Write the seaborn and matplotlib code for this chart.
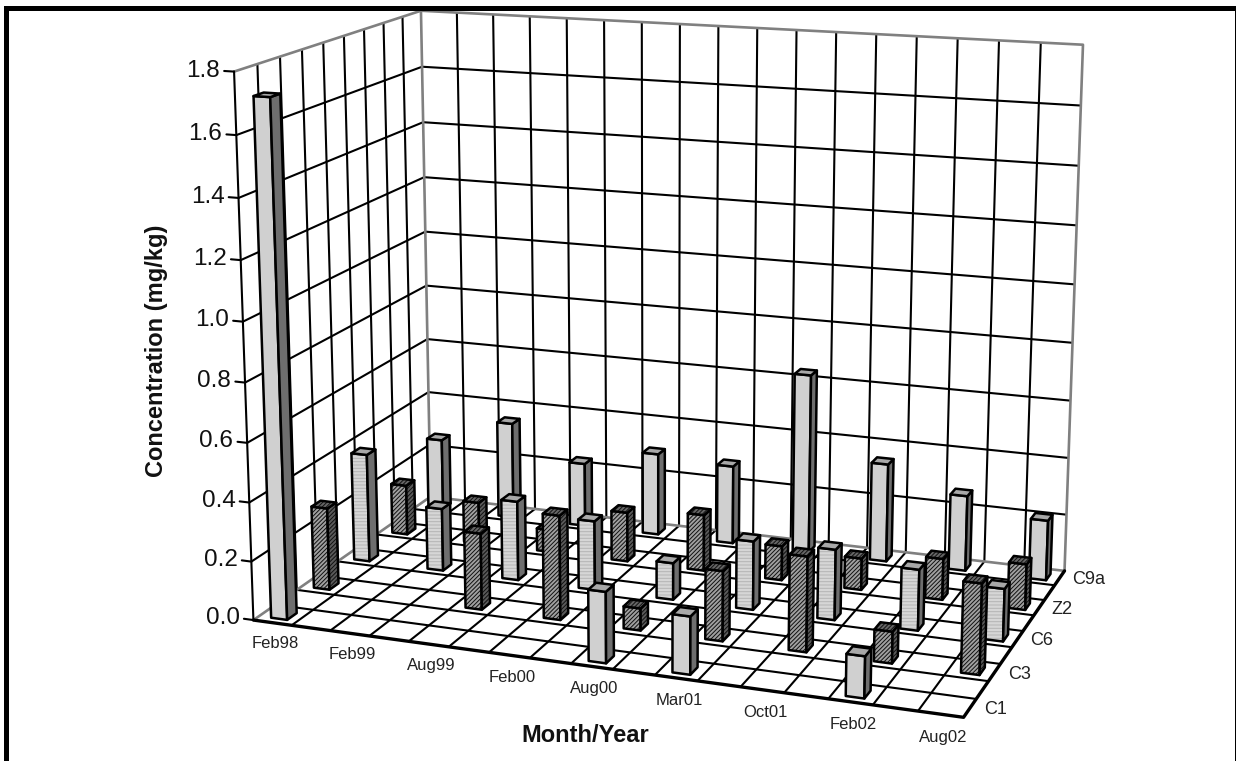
#!/usr/bin/env python3
# -*- coding: utf-8 -*-

import numpy as np
import matplotlib
matplotlib.use("Agg")
import matplotlib.pyplot as plt
import seaborn as sns
from matplotlib.patches import Rectangle
from mpl_toolkits.mplot3d import proj3d
from mpl_toolkits.mplot3d.art3d import Poly3DCollection

# data: one value per labelled month, 0 = no bar
months = ["Feb98", "Feb99", "Aug99", "Feb00", "Aug00", "Mar01", "Oct01", "Feb02", "Aug02"]
series_names = ["C1", "C3", "C6", "Z2", "C9a"]
c1 = [1.72, 0, 0, 0, 0.235, 0.19, 0, 0.135, 0]
c3 = [0.285, 0, 0.262, 0.355, 0.075, 0.235, 0.317, 0.105, 0.297]
c6 = [0.382, 0.22, 0.277, 0.24, 0.127, 0.235, 0.24, 0.206, 0.176]
z2 = [0.18, 0.148, 0.08, 0.175, 0.198, 0.12, 0.11, 0.142, 0.157]
c9a = [0.26, 0.35, 0.23, 0.295, 0.28, 0.635, 0.347, 0.265, 0.21]
z_ticks = [0.0, 0.2, 0.4, 0.6, 0.8, 1.0, 1.2, 1.4, 1.6, 1.8]

WIDTH, HEIGHT = 1236, 761
N_X, N_Y, Z_MAX = 17, 9, 1.8

sns.set_theme(style="white")
plt.rcParams["font.family"] = ["Liberation Sans", "DejaVu Sans"]
plt.rcParams["hatch.linewidth"] = 0.7


def camera_matrix():
    """Fit the chart's perspective from where the box corners sit on the page"""
    world = [(0, 0, 0), (N_X, 0, 0), (N_X, N_Y, 0), (0, N_Y, 0),
             (0, 0, Z_MAX), (0, N_Y, Z_MAX), (N_X, N_Y, Z_MAX)]
    page = [(254, 620), (963, 718), (1065, 570), (430, 497),
            (234, 71), (421, 11), (1083, 45)]
    rows, rhs = [], []
    for (x, y, z), (px, py) in zip(world, page):
        rows.append([x, y, z, 1, 0, 0, 0, 0, -px * x, -px * y, -px * z])
        rows.append([0, 0, 0, 0, x, y, z, 1, -py * x, -py * y, -py * z])
        rhs += [px, py]
    p = np.linalg.lstsq(np.array(rows, float), np.array(rhs, float), rcond=None)[0]
    return np.array([p[:4], p[4:8], [0, 0, 0, -1], [p[8], p[9], p[10], 1.0]])


def add_face(ax, verts, fc, hatch, hatch_color, zorder):
    fill = Poly3DCollection([verts], facecolors=fc, edgecolors=hatch_color,
                            linewidths=0, hatch=hatch, zorder=zorder)
    ax.add_collection3d(fill)
    line = Poly3DCollection([verts], facecolors=(0, 0, 0, 0), edgecolors="black",
                            linewidths=1.8, zorder=zorder + 0.1)
    ax.add_collection3d(line)


def add_bar(ax, col, row, value, style, zorder):
    x0, x1 = col + 0.29, col + 0.71
    y0, y1 = row + 0.28, row + 0.72
    front = [(x0, y0, 0), (x1, y0, 0), (x1, y0, value), (x0, y0, value)]
    right = [(x1, y0, 0), (x1, y1, 0), (x1, y1, value), (x1, y0, value)]
    top = [(x0, y0, value), (x1, y0, value), (x1, y1, value), (x0, y1, value)]
    add_face(ax, front, style["front"], style["hatch"], style["hatch_color"], zorder)
    add_face(ax, right, style["side"], style["side_hatch"], style["hatch_color"], zorder + 0.2)
    add_face(ax, top, style["top"], style["side_hatch"], style["hatch_color"], zorder + 0.4)


def draw_box(ax):
    grid = dict(color="black", lw=1.5, zorder=1, solid_capstyle="butt")
    edge = dict(color="#808080", lw=1.9, zorder=1.2)
    # back wall
    for i in range(1, N_X):
        ax.plot([i, i], [N_Y, N_Y], [0, Z_MAX], **grid)
    # left wall
    for j in range(1, N_Y):
        ax.plot([0, 0], [j, j], [0, Z_MAX], **grid)
    for z in z_ticks[1:-1]:
        ax.plot([0, 0, N_X], [0, N_Y, N_Y], [z, z, z], **grid)
    # floor
    for i in range(1, N_X):
        ax.plot([i, i], [0, N_Y], [0, 0], **grid)
    for j in range(1, N_Y):
        ax.plot([0, N_X], [j, j], [0, 0], **grid)
    # grey box edges
    ax.plot([0, 0, N_X, N_X], [0, N_Y, N_Y, N_Y], [Z_MAX, Z_MAX, Z_MAX, 0], **edge)
    ax.plot([0, 0, N_X], [0, N_Y, N_Y], [0, 0, 0], **edge)
    ax.plot([0, 0], [N_Y, N_Y], [0, Z_MAX], **edge)
    # heavier front edges
    ax.plot([0, N_X, N_X], [0, 0, N_Y], [0, 0, 0], color="black", lw=2.4, zorder=1.4)
    ax.plot([0, 0], [0, 0], [0, Z_MAX], color="black", lw=1.5, zorder=1.4)


def main():
    fig = plt.figure(figsize=(WIDTH / 100, HEIGHT / 100), dpi=100, facecolor="white")
    ax = fig.add_axes([0, 0, 1, 1], projection="3d")
    ax.set_xticks([])
    ax.set_yticks([])
    ax.set_zticks([])
    ax.set_axis_off()
    ax.patch.set_visible(False)
    ax.computed_zorder = False
    # ortho only so that Line3D does not clip to the unit box
    ax.set_proj_type("ortho")

    # mplot3d camera replaced by the fitted one, 2D view is page pixels
    matrix = camera_matrix()
    ax.get_proj = lambda: matrix
    ax.apply_aspect = lambda position=None: None
    ax.viewLim.intervalx = (0, WIDTH)
    ax.viewLim.intervaly = (HEIGHT, 0)

    draw_box(ax)

    light = dict(front="#d0d0d0", side="#6e6e6e", top="#a8a8a8", hatch=None,
                 side_hatch=None, hatch_color="#c4c4c4")
    striped = dict(front="#d6d6d6", side="#6e6e6e", top="#a8a8a8", hatch="-----",
                   side_hatch=None, hatch_color="#b4b4b4")
    dark = dict(front="#a0a0a0", side="#5a5a5a", top="#666666", hatch="////////",
                side_hatch="////////", hatch_color="#111111")
    rows = [(8, c9a, light), (6, z2, dark), (4, c6, striped), (2, c3, dark), (0, c1, light)]

    zorder = 2
    for row, values, style in rows:
        for k, value in enumerate(values):
            if value > 0:
                add_bar(ax, k * 2, row, value, style, zorder)
                zorder += 1

    def label_at(x, y, z, text, **kwargs):
        # project the 3D anchor, then place plain figure text there
        px, py, _ = proj3d.proj_transform(x, y, z, matrix)
        fig.text(px / WIDTH, 1 - py / HEIGHT, text, va="center", **kwargs)

    # tick marks and labels
    for z in z_ticks:
        ax.plot([0, -0.25], [0, 0], [z, z], color="black", lw=1.5, zorder=1.5)
        label_at(-0.36, 0, z, f"{z:.1f}", ha="right", fontsize=17.5, color="#111111")
    for k, label in enumerate(months):
        label_at(k * 1.96 + 1.2, -1.1, 0, label, ha="center", fontsize=12, color="#222222")
    for k, label in enumerate(series_names):
        label_at(N_X + 0.3, k * 2 + 0.5, 0, label, ha="left", fontsize=13, color="#222222")

    fig.text(157 / WIDTH, 1 - 351 / HEIGHT, "Concentration (mg/kg)", rotation=90,
             ha="center", va="center", fontsize=17, fontweight="bold", color="#111111")
    fig.text(585 / WIDTH, 1 - 736 / HEIGHT, "Month/Year", ha="center", va="center",
             fontsize=17, fontweight="bold", color="#111111")

    # page border, open at the bottom
    for x, y, w, h in [(4, 6, 1232, 5), (4, 6, 5, 755), (1234.5, 6, 1.5, 755)]:
        fig.add_artist(Rectangle((x / WIDTH, 1 - (y + h) / HEIGHT), w / WIDTH, h / HEIGHT,
                                 transform=fig.transFigure, facecolor="black",
                                 edgecolor="none", zorder=5))

    fig.savefig("out.png", dpi=100, facecolor="white")


if __name__ == "__main__":
    main()
